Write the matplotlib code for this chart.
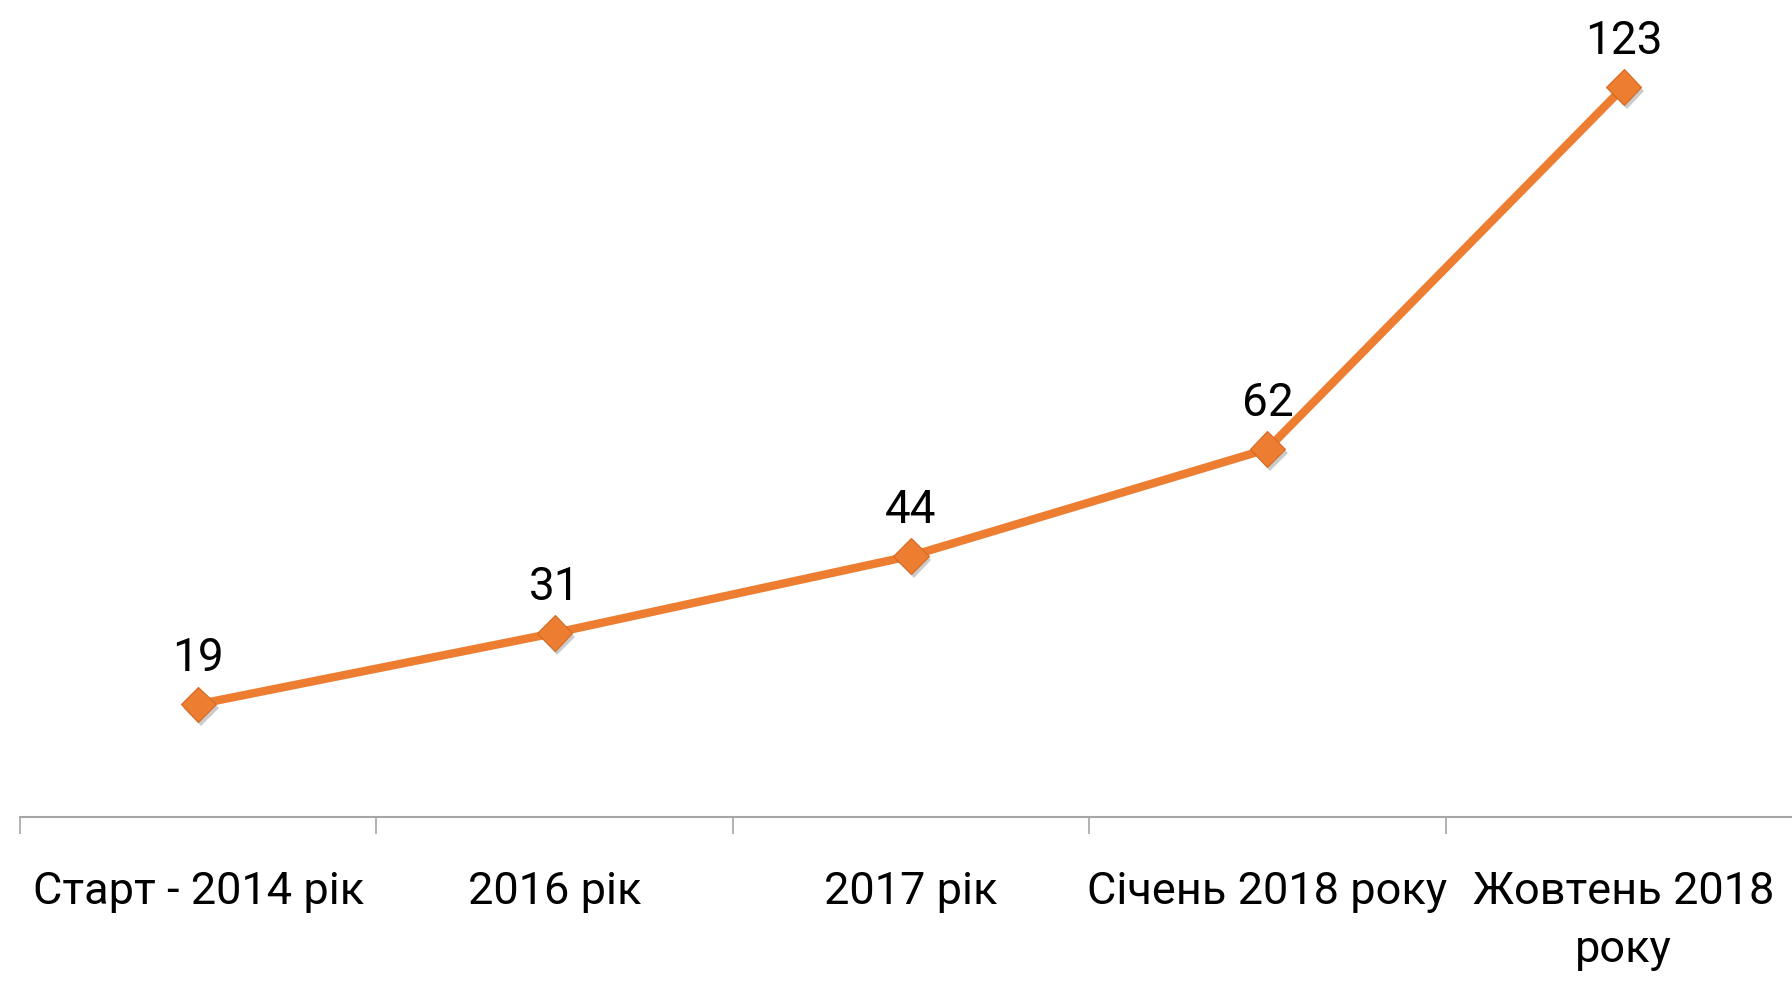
import matplotlib
matplotlib.use("Agg")
import matplotlib.pyplot as plt
import matplotlib.patheffects as pe
import numpy as np

categories = ["Старт - 2014 рік", "2016 рік", "2017 рік", "Січень 2018 року", "Жовтень 2018\nроку"]
values = [19, 31, 44, 62, 123]

plt.rcParams['font.family'] = ['Roboto', 'DejaVu Sans']
orange = "#ED7D31"

fig = plt.figure(figsize=(17.92, 9.87), dpi=100)
ax = fig.add_axes([20/1792, (987-818)/987, 1782/1792, 130*5.935/987])

x = np.arange(len(categories))
ax.plot(x, values, color=orange, lw=6, solid_capstyle='butt', zorder=2)
ax.plot(x, values, linestyle='none', marker='D', markersize=18, color=orange,
        markeredgecolor="#D46A22", markeredgewidth=0.8, zorder=3,
        path_effects=[pe.SimplePatchShadow(offset=(2, -3), alpha=0.3, shadow_rgbFace='#555555'), pe.Normal()])

for xi, v in zip(x, values):
    ax.annotate(str(v), (xi, v), xytext=(0, 34), textcoords='offset points',
                ha='center', va='center', fontsize=33, color='black')

ax.set_xlim(-0.5, len(categories) - 0.5)
ax.set_ylim(0, 130)

for s in ['top', 'right', 'left']:
    ax.spines[s].set_visible(False)
ax.spines['bottom'].set_color('#A6A6A6')
ax.spines['bottom'].set_linewidth(1.5)
ax.set_yticks([])

ax.set_xticks(x)
ax.set_xticklabels(categories, fontsize=32.5, linespacing=1.5)
ax.tick_params(axis='x', which='major', length=0, pad=38, colors='black')
ax.set_xticks(np.arange(len(categories)) - 0.5, minor=True)
ax.tick_params(axis='x', which='minor', length=12, width=1.2, color='#A6A6A6', direction='out')

fig.savefig("out.png", dpi=100)
